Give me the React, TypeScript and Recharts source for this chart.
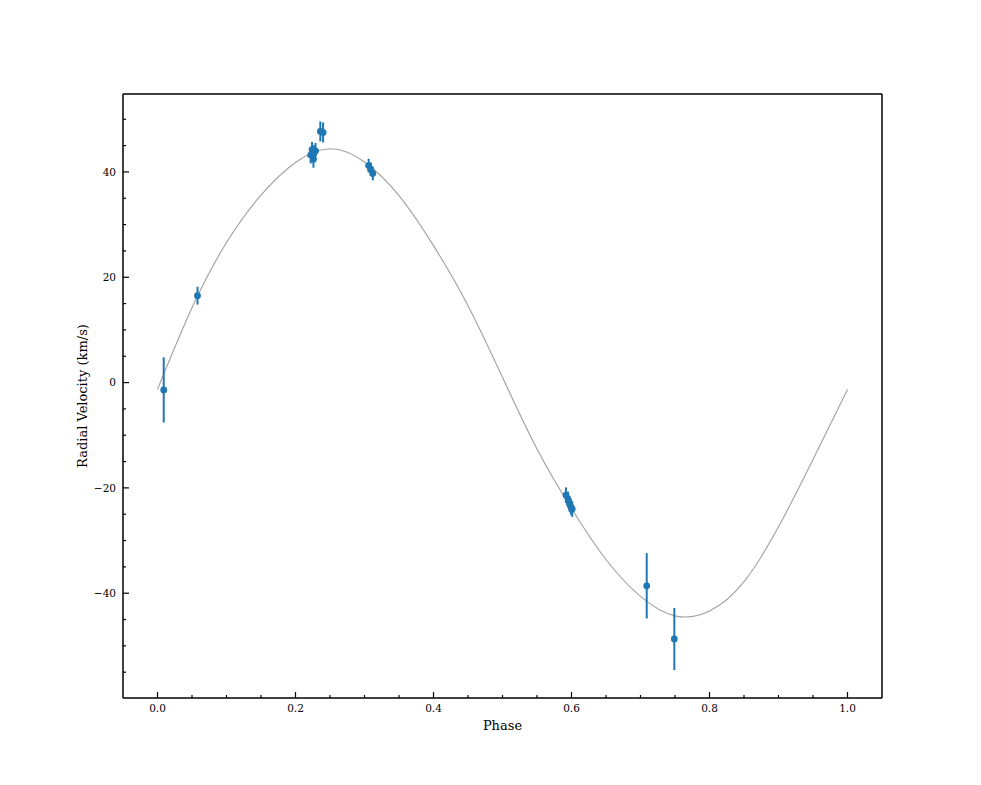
import { ComposedChart, Line, Scatter, ErrorBar, XAxis, YAxis, ReferenceLine } from 'recharts';

// fitted RV curve, every 0.05 in phase
const curvePhase = [0, 0.05, 0.1, 0.15, 0.2, 0.25, 0.3, 0.35, 0.4, 0.45, 0.5, 0.55, 0.6, 0.65, 0.7, 0.75, 0.8, 0.85, 0.9, 0.95, 1.0];
const curveRv = [-1.3, 14.2, 26.6, 35.6, 41.8, 44.4, 41.9, 35.5, 26.0, 14.6, 1.0, -12.6, -23.9, -33.6, -40.6, -44.3, -43.4, -37.8, -27.4, -14.6, -1.3];

// observations
const obsPhase = [0.009, 0.058, 0.222, 0.224, 0.226, 0.227, 0.229, 0.236, 0.240, 0.306, 0.309, 0.312, 0.592, 0.595, 0.597, 0.599, 0.601, 0.709, 0.749];
const obsRv = [-1.4, 16.5, 43.2, 44.2, 42.4, 43.6, 44.0, 47.7, 47.5, 41.2, 40.5, 39.7, -21.4, -22.2, -23.0, -23.6, -24.0, -38.6, -48.7];
const obsErr = [6.2, 1.7, 1.6, 1.5, 1.6, 1.5, 1.5, 1.9, 1.9, 1.3, 1.3, 1.3, 1.5, 1.5, 1.5, 1.5, 1.5, 6.2, 5.9];

const xTicks = [0, 0.05, 0.1, 0.15, 0.2, 0.25, 0.3, 0.35, 0.4, 0.45, 0.5, 0.55, 0.6, 0.65, 0.7, 0.75, 0.8, 0.85, 0.9, 0.95, 1.0];
const yTicks = [-55, -50, -45, -40, -35, -30, -25, -20, -15, -10, -5, 0, 5, 10, 15, 20, 25, 30, 35, 40, 45, 50];

const X_DOMAIN = [-0.05, 1.05];
const Y_DOMAIN = [-59.9, 54.8];

const curve = curvePhase.map((p, i) => ({ phase: p, rv: curveRv[i] }));
const obs = obsPhase.map((p, i) => ({ phase: p, rv: obsRv[i], err: obsErr[i] }));

const FONT = '"DejaVu Serif", serif';
const BLUE = '#1f77b4';

const fmt = (v: number, d: number) => (v < 0 ? '\u2212' : '') + Math.abs(v).toFixed(d);

function XTick(props: any) {
  const { x, y, payload } = props;
  const v = payload.value;
  const major = Math.abs(v * 5 - Math.round(v * 5)) < 1e-6;
  return (
    <g>
      <line x1={x} x2={x} y1={y} y2={y - (major ? 6 : 3)} stroke="#000" strokeWidth={1.2} />
      {major && (
        <text x={x} y={y + 14} textAnchor="middle" fontFamily={FONT} fontSize={10.5} fill="#000">
          {fmt(v, 1)}
        </text>
      )}
    </g>
  );
}

function YTick(props: any) {
  const { x, y, payload } = props;
  const v = payload.value;
  const major = v % 20 === 0;
  return (
    <g>
      <line x1={x} x2={x + (major ? 6 : 3)} y1={y} y2={y} stroke="#000" strokeWidth={1.2} />
      {major && (
        <text x={x - 7} y={y} dy="0.35em" textAnchor="end" fontFamily={FONT} fontSize={10.5} fill="#000">
          {fmt(v, 0)}
        </text>
      )}
    </g>
  );
}

const Dot = (props: any) => <circle cx={props.cx} cy={props.cy} r={3.4} fill={BLUE} />;

export default function App() {
  return (
    <div style={{ position: 'absolute', left: 0, top: 0, background: '#fff' }}>
      <ComposedChart width={981} height={785} margin={{ top: 94, right: 99, bottom: 47, left: 63 }}>
        <XAxis
          type="number"
          dataKey="phase"
          domain={X_DOMAIN}
          ticks={xTicks}
          tick={<XTick />}
          tickLine={false}
          tickSize={0}
          tickMargin={0}
          height={40}
          interval={0}
          allowDataOverflow
          axisLine={{ stroke: '#000', strokeWidth: 1.5 }}
          label={{ value: 'Phase', position: 'insideBottom', offset: 8, fontFamily: FONT, fontSize: 13, fill: '#000' }}
        />
        <YAxis
          type="number"
          domain={Y_DOMAIN}
          ticks={yTicks}
          tick={<YTick />}
          tickLine={false}
          tickSize={0}
          tickMargin={0}
          width={60}
          interval={0}
          allowDataOverflow
          axisLine={{ stroke: '#000', strokeWidth: 1.5 }}
          label={{
            value: 'Radial Velocity (km/s)',
            angle: -90,
            position: 'insideLeft',
            offset: 19,
            fontFamily: FONT,
            fontSize: 13,
            fill: '#000',
            style: { textAnchor: 'middle' },
          }}
        />
        <ReferenceLine y={Y_DOMAIN[1]} stroke="#000" strokeWidth={1.5} />
        <ReferenceLine x={X_DOMAIN[1]} stroke="#000" strokeWidth={1.5} />
        <Line
          data={curve}
          dataKey="rv"
          type="natural"
          stroke="#a0a0a0"
          strokeWidth={1.1}
          dot={false}
          activeDot={false}
          isAnimationActive={false}
        />
        <Scatter data={obs} dataKey="rv" shape={<Dot />} isAnimationActive={false}>
          <ErrorBar dataKey="err" direction="y" width={0} stroke={BLUE} strokeWidth={2} />
        </Scatter>
      </ComposedChart>
    </div>
  );
}
